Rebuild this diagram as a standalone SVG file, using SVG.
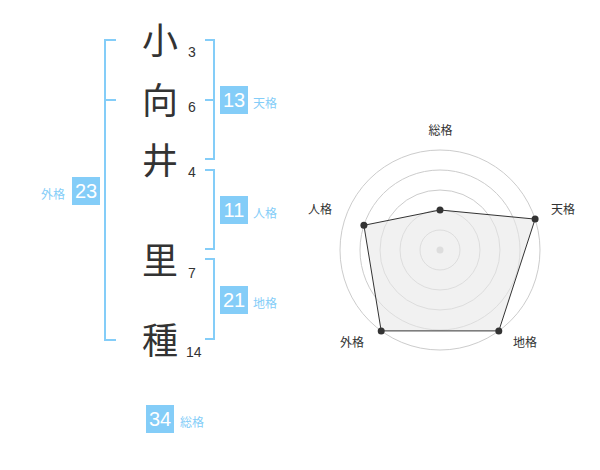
<svg xmlns="http://www.w3.org/2000/svg" width="600" height="470" viewBox="0 0 600 470">
<style>
.ch{font-family:"Noto Sans CJK JP","Noto Sans CJK SC",sans-serif;font-size:36px;fill:#333;text-anchor:middle}
.num{font-family:"Liberation Sans",Arial,sans-serif;font-size:14px;fill:#333}
.br{fill:none;stroke:#84CDF8;stroke-width:2}
.box{fill:#84CDF8}
.bt{font-family:"Liberation Sans",Arial,sans-serif;font-size:20px;fill:#fff;text-anchor:middle}
.lb{font-family:"Noto Sans CJK JP","Noto Sans CJK SC",sans-serif;font-size:12px;fill:#84CDF8}
.rl{font-family:"Noto Sans CJK JP","Noto Sans CJK SC",sans-serif;font-size:12px;fill:#333;text-anchor:middle}
.ring{fill:none;stroke:#ccc;stroke-width:1}
</style>
<rect width="600" height="470" fill="#fff"/>
<g id="connectors">
<path class="br" d="M116,40 H105 V340 H116 M105,100 H116"/>
<path class="br" d="M205,40 H214 V159 H205 M205,100 H214"/>
<path class="br" d="M205,170 H214 V249 H205"/>
<path class="br" d="M205,259 H214 V339 H205"/>
</g>
<g id="chars">
<g id="c1"><text class="ch" x="160" y="54">小</text><text class="num" x="188" y="57">3</text></g>
<g id="c2"><text class="ch" x="160" y="114">向</text><text class="num" x="188" y="112">6</text></g>
<g id="c3"><text class="ch" x="160" y="174">井</text><text class="num" x="188" y="177">4</text></g>
<g id="c4"><text class="ch" x="160" y="274">里</text><text class="num" x="188" y="278">7</text></g>
<g id="c5"><text class="ch" x="160" y="354">種</text><text class="num" x="186" y="357">14</text></g>
</g>
<g id="tenkaku"><rect class="box" x="220" y="86" width="28" height="28"/><text class="bt" x="234" y="107">13</text><text class="lb" x="253" y="108">天格</text></g>
<g id="jinkaku"><rect class="box" x="220" y="196" width="28" height="28"/><text class="bt" x="234" y="217">11</text><text class="lb" x="253" y="218">人格</text></g>
<g id="chikaku"><rect class="box" x="220" y="286" width="28" height="28"/><text class="bt" x="234" y="307">21</text><text class="lb" x="253" y="308">地格</text></g>
<g id="gaikaku"><rect class="box" x="72" y="177" width="28" height="28"/><text class="bt" x="86" y="198">23</text><text class="lb" x="41" y="199">外格</text></g>
<g id="soukaku"><rect class="box" x="146" y="405" width="28" height="28"/><text class="bt" x="160" y="426">34</text><text class="lb" x="180" y="427">総格</text></g>
<g id="radar">
<circle class="ring" cx="440" cy="250" r="20"/>
<circle class="ring" cx="440" cy="250" r="40"/>
<circle class="ring" cx="440" cy="250" r="60"/>
<circle class="ring" cx="440" cy="250" r="80"/>
<circle class="ring" cx="440" cy="250" r="100"/>
<circle cx="440" cy="250" r="3.5" fill="#ccc"/>
<polygon points="440,210 535.1,219.1 498.8,330.9 381.2,330.9 363.9,225.3" fill="#e8e8e8" fill-opacity="0.6" stroke="#333" stroke-width="1"/>
<g fill="#333">
<circle cx="440" cy="210" r="3.5"/>
<circle cx="535.1" cy="219.1" r="3.5"/>
<circle cx="498.8" cy="330.9" r="3.5"/>
<circle cx="381.2" cy="330.9" r="3.5"/>
<circle cx="363.9" cy="225.3" r="3.5"/>
</g>
<text class="rl" x="440.5" y="135">総格</text>
<text class="rl" x="563" y="214">天格</text>
<text class="rl" x="525" y="347">地格</text>
<text class="rl" x="352" y="347">外格</text>
<text class="rl" x="320" y="214">人格</text>
</g>
</svg>
